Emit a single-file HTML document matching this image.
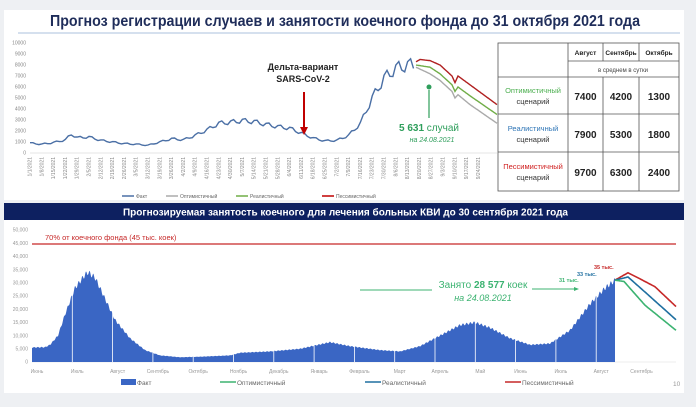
<!DOCTYPE html>
<html><head><meta charset="utf-8"><style>
body{margin:0;background:#eef0f3;font-family:"Liberation Sans",sans-serif}
svg{display:block}
</style></head><body>
<svg id="s" width="696" height="407" xmlns="http://www.w3.org/2000/svg" font-family="Liberation Sans, sans-serif">
<rect width="696" height="407" fill="#eef0f3"/>
<rect x="4" y="10" width="680" height="190" fill="#fff"/>
<text x="50" y="26" font-size="16" font-weight="bold" fill="#1f2d5a" textLength="590" lengthAdjust="spacingAndGlyphs">Прогноз регистрации случаев и занятости коечного фонда до 31 октября 2021 года</text>
<line x1="18" y1="33" x2="680" y2="33" stroke="#d5e0ee" stroke-width="2"/>
<g id="topax" font-size="5" fill="#888"></g>
<g id="top"></g>
<text x="303" y="70" text-anchor="middle" font-size="9" font-weight="bold" fill="#222">Дельта-вариант</text>
<text x="303" y="82" text-anchor="middle" font-size="9" font-weight="bold" fill="#222">SARS-CoV-2</text>
<line x1="304" y1="92" x2="304" y2="128" stroke="#c00000" stroke-width="2"/>
<polygon points="300,127 308,127 304,135" fill="#c00000"/>
<circle cx="429" cy="87" r="2.5" fill="#2e9e5b"/>
<line x1="429" y1="90" x2="429" y2="118" stroke="#2e9e5b" stroke-width="1.2"/>
<text x="429" y="131" text-anchor="middle" font-size="10" fill="#2e9e5b"><tspan font-weight="bold">5 631</tspan> случай</text>
<text x="432" y="142" text-anchor="middle" font-size="7" font-style="italic" fill="#2e9e5b">на 24.08.2021</text>
<g font-size="5" fill="#666">
<line x1="122" y1="196" x2="134" y2="196" stroke="#4a6fa5" stroke-width="1.5"/><text x="136" y="198">Факт</text>
<line x1="166" y1="196" x2="178" y2="196" stroke="#aaa" stroke-width="1.5"/><text x="180" y="198">Оптимистичный</text>
<line x1="236" y1="196" x2="248" y2="196" stroke="#70ad47" stroke-width="1.5"/><text x="250" y="198">Реалистичный</text>
<line x1="322" y1="196" x2="334" y2="196" stroke="#c00000" stroke-width="1.5"/><text x="336" y="198">Пессимистичный</text>
</g>
<g stroke="#555" stroke-width="0.8" fill="none">
<rect x="498" y="43" width="181" height="148"/>
<line x1="568" y1="43" x2="568" y2="191"/>
<line x1="603" y1="43" x2="603" y2="61"/><line x1="639" y1="43" x2="639" y2="61"/>
<line x1="603" y1="77" x2="603" y2="191"/><line x1="639" y1="77" x2="639" y2="191"/>
<line x1="568" y1="61" x2="679" y2="61"/>
<line x1="498" y1="77" x2="679" y2="77"/><line x1="498" y1="114" x2="679" y2="114"/><line x1="498" y1="152" x2="679" y2="152"/>
</g>
<g font-size="6.5" font-weight="bold" fill="#222" text-anchor="middle">
<text x="585.5" y="55">Август</text><text x="621" y="55">Сентябрь</text><text x="659" y="55">Октябрь</text></g>
<text x="623" y="72" text-anchor="middle" font-size="6" fill="#444">в среднем в сутки</text>
<g font-size="7.5" text-anchor="middle">
<text x="533" y="93" fill="#4caf50">Оптимистичный</text><text x="533" y="104" fill="#333">сценарий</text>
<text x="533" y="131" fill="#2e75b6">Реалистичный</text><text x="533" y="142" fill="#333">сценарий</text>
<text x="533" y="169" fill="#d02020">Пессимистичный</text><text x="533" y="180" fill="#333">сценарий</text>
</g>
<g font-size="10" font-weight="bold" fill="#222" text-anchor="middle">
<text x="585.5" y="100">7400</text><text x="621" y="100">4200</text><text x="659" y="100">1300</text>
<text x="585.5" y="138">7900</text><text x="621" y="138">5300</text><text x="659" y="138">1800</text>
<text x="585.5" y="176">9700</text><text x="621" y="176">6300</text><text x="659" y="176">2400</text>
</g>

<rect x="4" y="203" width="680" height="190" fill="#fff"/>
<rect x="4" y="203" width="680" height="17" fill="#0d2060"/>
<text x="123" y="215.5" font-size="10" font-weight="bold" fill="#fff" textLength="445" lengthAdjust="spacingAndGlyphs">Прогнозируемая занятость коечного для лечения больных КВИ до 30 сентября 2021 года</text>
<g id="botax" font-size="5" fill="#999"></g>
<g id="bot"></g>
<line x1="32" y1="244" x2="676" y2="244" stroke="#c62828" stroke-width="1.3"/>
<text x="45" y="240" font-size="7.5" fill="#c62828">70% от коечного фонда (45 тыс. коек)</text>
<line x1="360" y1="290" x2="432" y2="290" stroke="#3cb371" stroke-width="1"/>
<line x1="532" y1="289" x2="575" y2="289" stroke="#3cb371" stroke-width="1"/>
<polygon points="574,287 579,289 574,291" fill="#3cb371"/>
<text x="483" y="288" text-anchor="middle" font-size="10" fill="#3cb371">Занято <tspan font-weight="bold">28 577</tspan> коек</text>
<text x="483" y="301" text-anchor="middle" font-size="9" font-style="italic" fill="#3cb371">на 24.08.2021</text>
<text x="594" y="269" font-size="5.5" font-weight="bold" fill="#c62828">35 тыс.</text>
<text x="577" y="276" font-size="5.5" font-weight="bold" fill="#1f6fa0">33 тыс.</text>
<text x="559" y="282" font-size="5.5" font-weight="bold" fill="#3cb371">31 тыс.</text>
<g font-size="6.5" fill="#666">
<rect x="121" y="379" width="15" height="6" fill="#3a66c4"/><text x="137" y="385">Факт</text>
<line x1="220" y1="382" x2="236" y2="382" stroke="#3cb371" stroke-width="1.5"/><text x="237" y="385">Оптимистичный</text>
<line x1="365" y1="382" x2="381" y2="382" stroke="#1f6fa0" stroke-width="1.5"/><text x="382" y="385">Реалистичный</text>
<line x1="505" y1="382" x2="521" y2="382" stroke="#c62828" stroke-width="1.5"/><text x="522" y="385">Пессимистичный</text>
<text x="673" y="386" fill="#999">10</text>
</g>
</svg>
<script>
var NS="http://www.w3.org/2000/svg";
function el(p,t,a,txt){var e=document.createElementNS(NS,t);for(var k in a)e.setAttribute(k,a[k]);if(txt)e.textContent=txt;document.getElementById(p).appendChild(e);return e;}
function interp(k,x){for(var i=0;i<k.length-1;i++){if(x>=k[i][0]&&x<=k[i+1][0]){var t=(x-k[i][0])/(k[i+1][0]-k[i][0]);return k[i][1]+t*(k[i+1][1]-k[i][1]);}}return k[k.length-1][1];}
for(var v=0;v<=10000;v+=1000){var y=153-v*0.011;el("topax","text",{x:26,y:y+1.7,"text-anchor":"end"},""+v);}
el("topax","line",{x1:30,y1:153,x2:497,y2:153,stroke:"#ccc","stroke-width":0.6});
for(var i=0;i<39;i++){var x=30+i*11.8;var dd=new Date(2021,0,1+7*i);var s=(dd.getMonth()+1)+"/"+dd.getDate()+"/2021";
el("topax","text",{transform:"translate("+(x+1.5)+",157) rotate(-90)","text-anchor":"end"},s);}
var tk=[[0,900],[1,800],[2,950],[3,1200],[3.5,1700],[4,1400],[5,1450],[6,1150],[7,1000],[8,850],[9,800],[10,700],[11,1000],[12,1300],[13,1200],[14,1600],[15,2100],[16,2700],[17,2800],[18,2950],[19,2850],[20,2600],[21,2400],[22,2250],[23,1800],[24,1350],[25,1100],[26,1150],[27,1600],[28,2700],[29,5000],[30,6800],[31,7700],[32,8000],[32.7,8000]];
var p="";for(var w=0;w<=32.7;w+=0.25){var v=interp(tk,w)*(1+0.08*Math.sin(w*2*Math.PI+0.5));p+=(p?"L":"M")+(30+w*11.8).toFixed(1)+","+(153-v*0.011).toFixed(1);}
el("top","path",{d:p,fill:"none",stroke:"#4a6fa5","stroke-width":1.4});
function fl(k,c){var p="";for(var x=416;x<=497;x+=1){var v=interp(k,x);p+=(p?"L":"M")+x+","+(153-v*0.011).toFixed(1);}el("top","path",{d:p,fill:"none",stroke:c,"stroke-width":1.4});}
fl([[416,8300],[420,8500],[430,8400],[440,8000],[452,7000],[455,6400],[458,7000],[470,6200],[497,4400]],"#b02020");
fl([[416,8000],[430,7800],[440,7200],[452,6200],[455,5600],[458,6000],[470,5200],[497,3500]],"#70ad47");
fl([[416,7800],[430,7200],[440,6600],[452,5600],[455,5000],[458,5300],[470,4400],[497,2700]],"#aaa");
for(var v=0;v<=50000;v+=5000){var y=362-v*0.00264;el("botax","text",{x:28,y:y+1.7,"text-anchor":"end"},v?(v/1000)+",000":"0");}
var months=["Июнь","Июль","Август","Сентябрь","Октябрь","Ноябрь","Декабрь","Январь","Февраль","Март","Апрель","Май","Июнь","Июль","Август","Сентябрь"];
for(var i=0;i<months.length;i++){el("botax","text",{x:37+i*40.3,y:373,"text-anchor":"middle"},months[i]);}
el("botax","line",{x1:32,y1:362,x2:676,y2:362,stroke:"#ddd","stroke-width":0.6});
var bk=[[32,5500],[45,5600],[50,6500],[58,10000],[65,18000],[75,28000],[85,33000],[88,34000],[95,32000],[105,24000],[115,16000],[130,9000],[145,4500],[160,2500],[180,1800],[200,2000],[230,2500],[240,3500],[270,4000],[300,5000],[330,7500],[350,6000],[380,4500],[400,4000],[420,6000],[440,10000],[460,14000],[475,15000],[490,13000],[510,9000],[530,6500],[550,7000],[570,12000],[590,22000],[605,28000],[615,31000]];
var p="M32,362";for(var x=32;x<=615;x+=0.5){var v=interp(bk,x)*(1+0.03*Math.sin(x*1.7));p+="L"+x+","+(362-v*0.00264).toFixed(1);}p+="L615,362Z";
el("bot","path",{d:p,fill:"#3a66c4"});
for(var i=1;i<15;i++){var x=32+i*40.3;el("bot","line",{x1:x,y1:250,x2:x,y2:362,stroke:"#fff","stroke-width":0.8});}
function bl(k,c){var p="";for(var x=615;x<=676;x+=1){var v=interp(k,x);p+=(p?"L":"M")+x+","+(362-v*0.00264).toFixed(1);}el("bot","path",{d:p,fill:"none",stroke:c,"stroke-width":1.6});}
bl([[615,31000],[628,33800],[640,31500],[655,28500],[676,21000]],"#c62828");
bl([[615,31000],[628,32200],[645,26500],[676,16000]],"#1f6fa0");
bl([[615,31000],[624,30500],[645,21500],[676,12000]],"#3cb371");
</script>
</body></html>
